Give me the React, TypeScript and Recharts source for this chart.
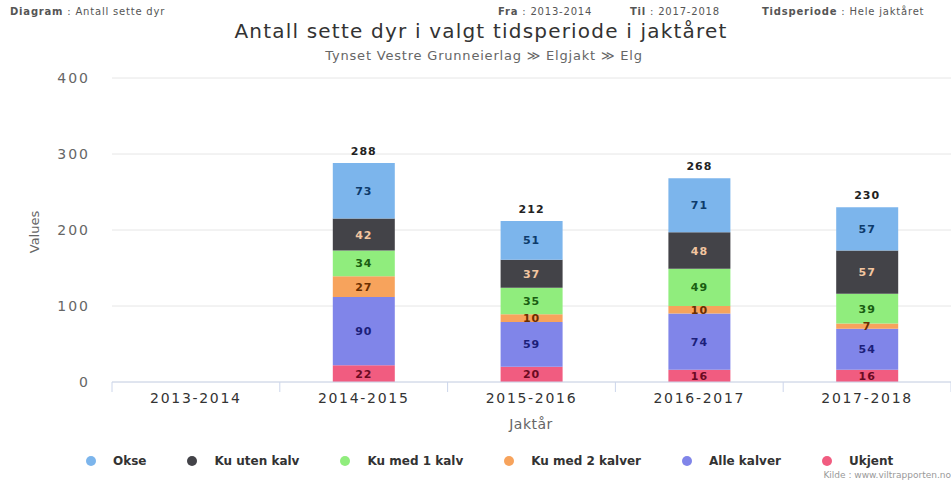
import React from "react";
import { BarChart, Bar, XAxis, YAxis, CartesianGrid, LabelList } from "recharts";

const categories = ["2013-2014", "2014-2015", "2015-2016", "2016-2017", "2017-2018"];
const okse = [0, 73, 51, 71, 57];
const kuUtenKalv = [0, 42, 37, 48, 57];
const kuMed1Kalv = [0, 34, 35, 49, 39];
const kuMed2Kalver = [0, 27, 10, 10, 7];
const alleKalver = [0, 90, 59, 74, 54];
const ukjent = [0, 22, 20, 16, 16];
const yTicks = [0, 100, 200, 300, 400];

const seriesDefs = [
  { key: "ukjent", name: "Ukjent", values: ukjent, color: "#f15c80", label: "#6b0a22" },
  { key: "alleKalver", name: "Alle kalver", values: alleKalver, color: "#8085e9", label: "#1c1f7a" },
  { key: "kuMed2Kalver", name: "Ku med 2 kalver", values: kuMed2Kalver, color: "#f7a35c", label: "#6b2e00" },
  { key: "kuMed1Kalv", name: "Ku med 1 kalv", values: kuMed1Kalv, color: "#90ed7d", label: "#1a5e12" },
  { key: "kuUtenKalv", name: "Ku uten kalv", values: kuUtenKalv, color: "#434348", label: "#f3c6a0" },
  { key: "okse", name: "Okse", values: okse, color: "#7cb5ec", label: "#0d3b6b" },
];
const legendOrder = ["okse", "kuUtenKalv", "kuMed1Kalv", "kuMed2Kalver", "alleKalver", "ukjent"];

const data = categories.map((c, i) => {
  const row: any = { cat: c };
  let total = 0;
  seriesDefs.forEach((s) => {
    row[s.key] = s.values[i];
    total += s.values[i];
  });
  row.total = total;
  return row;
});

const FONT = "'DejaVu Sans', Verdana, sans-serif";
const W = 951;
const H = 480;
const PLOT_LEFT = 112;
const PLOT_RIGHT = 951;
const BAND = (PLOT_RIGHT - PLOT_LEFT) / categories.length;

const XTick = (props: any) => {
  const { x, y, payload, index } = props;
  const half = BAND / 2;
  return (
    <g>
      <line x1={x - half} x2={x - half} y1={y - 8} y2={y + 2} stroke="#ccd6eb" />
      {index === categories.length - 1 && (
        <line x1={x + half} x2={x + half} y1={y - 8} y2={y + 2} stroke="#ccd6eb" />
      )}
      <text x={x} y={y + 13} textAnchor="middle" fill="#333" fontSize={14} letterSpacing={1.7} fontFamily={FONT}>
        {payload.value}
      </text>
    </g>
  );
};

const makeInner = (color: string) => (p: any) => {
  const { x, y, width, height, value } = p;
  if (!value) return null;
  return (
    <text
      x={Number(x) + Number(width) / 2}
      y={Number(y) + Number(height) / 2 + 4}
      textAnchor="middle"
      fill={color}
      fontSize={11}
      fontWeight="bold"
      letterSpacing={1}
      fontFamily={FONT}
    >
      {value}
    </text>
  );
};

const totalLabel = (p: any) => {
  const { x, y, width, value } = p;
  if (!value) return null;
  return (
    <text
      x={Number(x) + Number(width) / 2}
      y={Number(y) - 8}
      textAnchor="middle"
      fill="#222"
      fontSize={11}
      fontWeight="bold"
      letterSpacing={1}
      fontFamily={FONT}
    >
      {value}
    </text>
  );
};

const headerStyle: React.CSSProperties = {
  position: "absolute",
  top: 6,
  fontSize: 10,
  letterSpacing: 0.8,
  color: "#555",
  whiteSpace: "nowrap",
  lineHeight: "12px",
};

export default function App() {
  return (
    <div style={{ position: "absolute", left: 0, top: 0, width: W, height: H, background: "#fff", fontFamily: FONT, overflow: "hidden" }}>
      <BarChart
        width={W}
        height={H}
        data={data}
        margin={{ top: 78, right: 0, bottom: 68, left: 42 }}
        barCategoryGap="0%"
      >
        <CartesianGrid vertical={false} stroke="#e6e6e6" />
        <XAxis
          dataKey="cat"
          height={30}
          axisLine={{ stroke: "#ccd6eb" }}
          tickLine={false}
          tick={<XTick />}
          interval={0}
        />
        <YAxis
          width={70}
          domain={[0, 400]}
          ticks={yTicks}
          axisLine={false}
          tickLine={false}
          tickSize={6}
          tickMargin={16}
          tick={{ fill: "#666", fontSize: 14, letterSpacing: 2, fontFamily: FONT }}
        />
        {seriesDefs.map((s) => (
          <Bar key={s.key} dataKey={s.key} name={s.name} stackId="a" fill={s.color} barSize={62} isAnimationActive={false}>
            <LabelList dataKey={s.key} content={makeInner(s.label)} />
            {s.key === "okse" && <LabelList dataKey="total" content={totalLabel} />}
          </Bar>
        ))}
      </BarChart>

      {/* Header */}
      <div style={{ ...headerStyle, left: 10 }}>
        <b>Diagram</b> : Antall sette dyr
      </div>
      <div style={{ ...headerStyle, left: 498 }}>
        <b>Fra</b> : 2013-2014
      </div>
      <div style={{ ...headerStyle, left: 630 }}>
        <b>Til</b> : 2017-2018
      </div>
      <div style={{ ...headerStyle, left: 762 }}>
        <b>Tidsperiode</b> : Hele jaktåret
      </div>

      {/* Title */}
      <div style={{ position: "absolute", left: 0, width: 962, top: 19, lineHeight: "24px", textAlign: "center", fontSize: 20, color: "#333", letterSpacing: 1.2, whiteSpace: "nowrap" }}>
        Antall sette dyr i valgt tidsperiode i jaktåret
      </div>
      <div style={{ position: "absolute", left: 0, width: 968, top: 48, lineHeight: "16px", textAlign: "center", fontSize: 13, color: "#666", letterSpacing: 0.8, whiteSpace: "nowrap" }}>
        Tynset Vestre Grunneierlag ≫ Elgjakt ≫ Elg
      </div>

      {/* Y axis title */}
      <div style={{ position: "absolute", left: 34, top: 232, transform: "translate(-50%, -50%) rotate(-90deg)", fontSize: 13, color: "#666", whiteSpace: "nowrap" }}>
        Values
      </div>

      {/* X axis title */}
      <div style={{ position: "absolute", left: 531, top: 424, transform: "translate(-50%, -50%)", fontSize: 14, color: "#666", letterSpacing: 0.5, whiteSpace: "nowrap" }}>
        Jaktår
      </div>

      {/* Legend */}
      <div style={{ position: "absolute", left: 86, top: 454, display: "flex", alignItems: "center", gap: 41, whiteSpace: "nowrap" }}>
        {legendOrder.map((k) => {
          const s = seriesDefs.find((d) => d.key === k)!;
          return (
            <div key={k} style={{ display: "flex", alignItems: "center" }}>
              <span style={{ width: 10, height: 10, borderRadius: 5, background: s.color, display: "inline-block", marginRight: 17 }} />
              <span style={{ fontSize: 12, fontWeight: "bold", color: "#333" }}>{s.name}</span>
            </div>
          );
        })}
      </div>

      {/* Credits */}
      <div style={{ position: "absolute", right: 0, top: 470, fontSize: 9, color: "#999", whiteSpace: "nowrap" }}>
        Kilde : www.viltrapporten.no
      </div>
    </div>
  );
}
